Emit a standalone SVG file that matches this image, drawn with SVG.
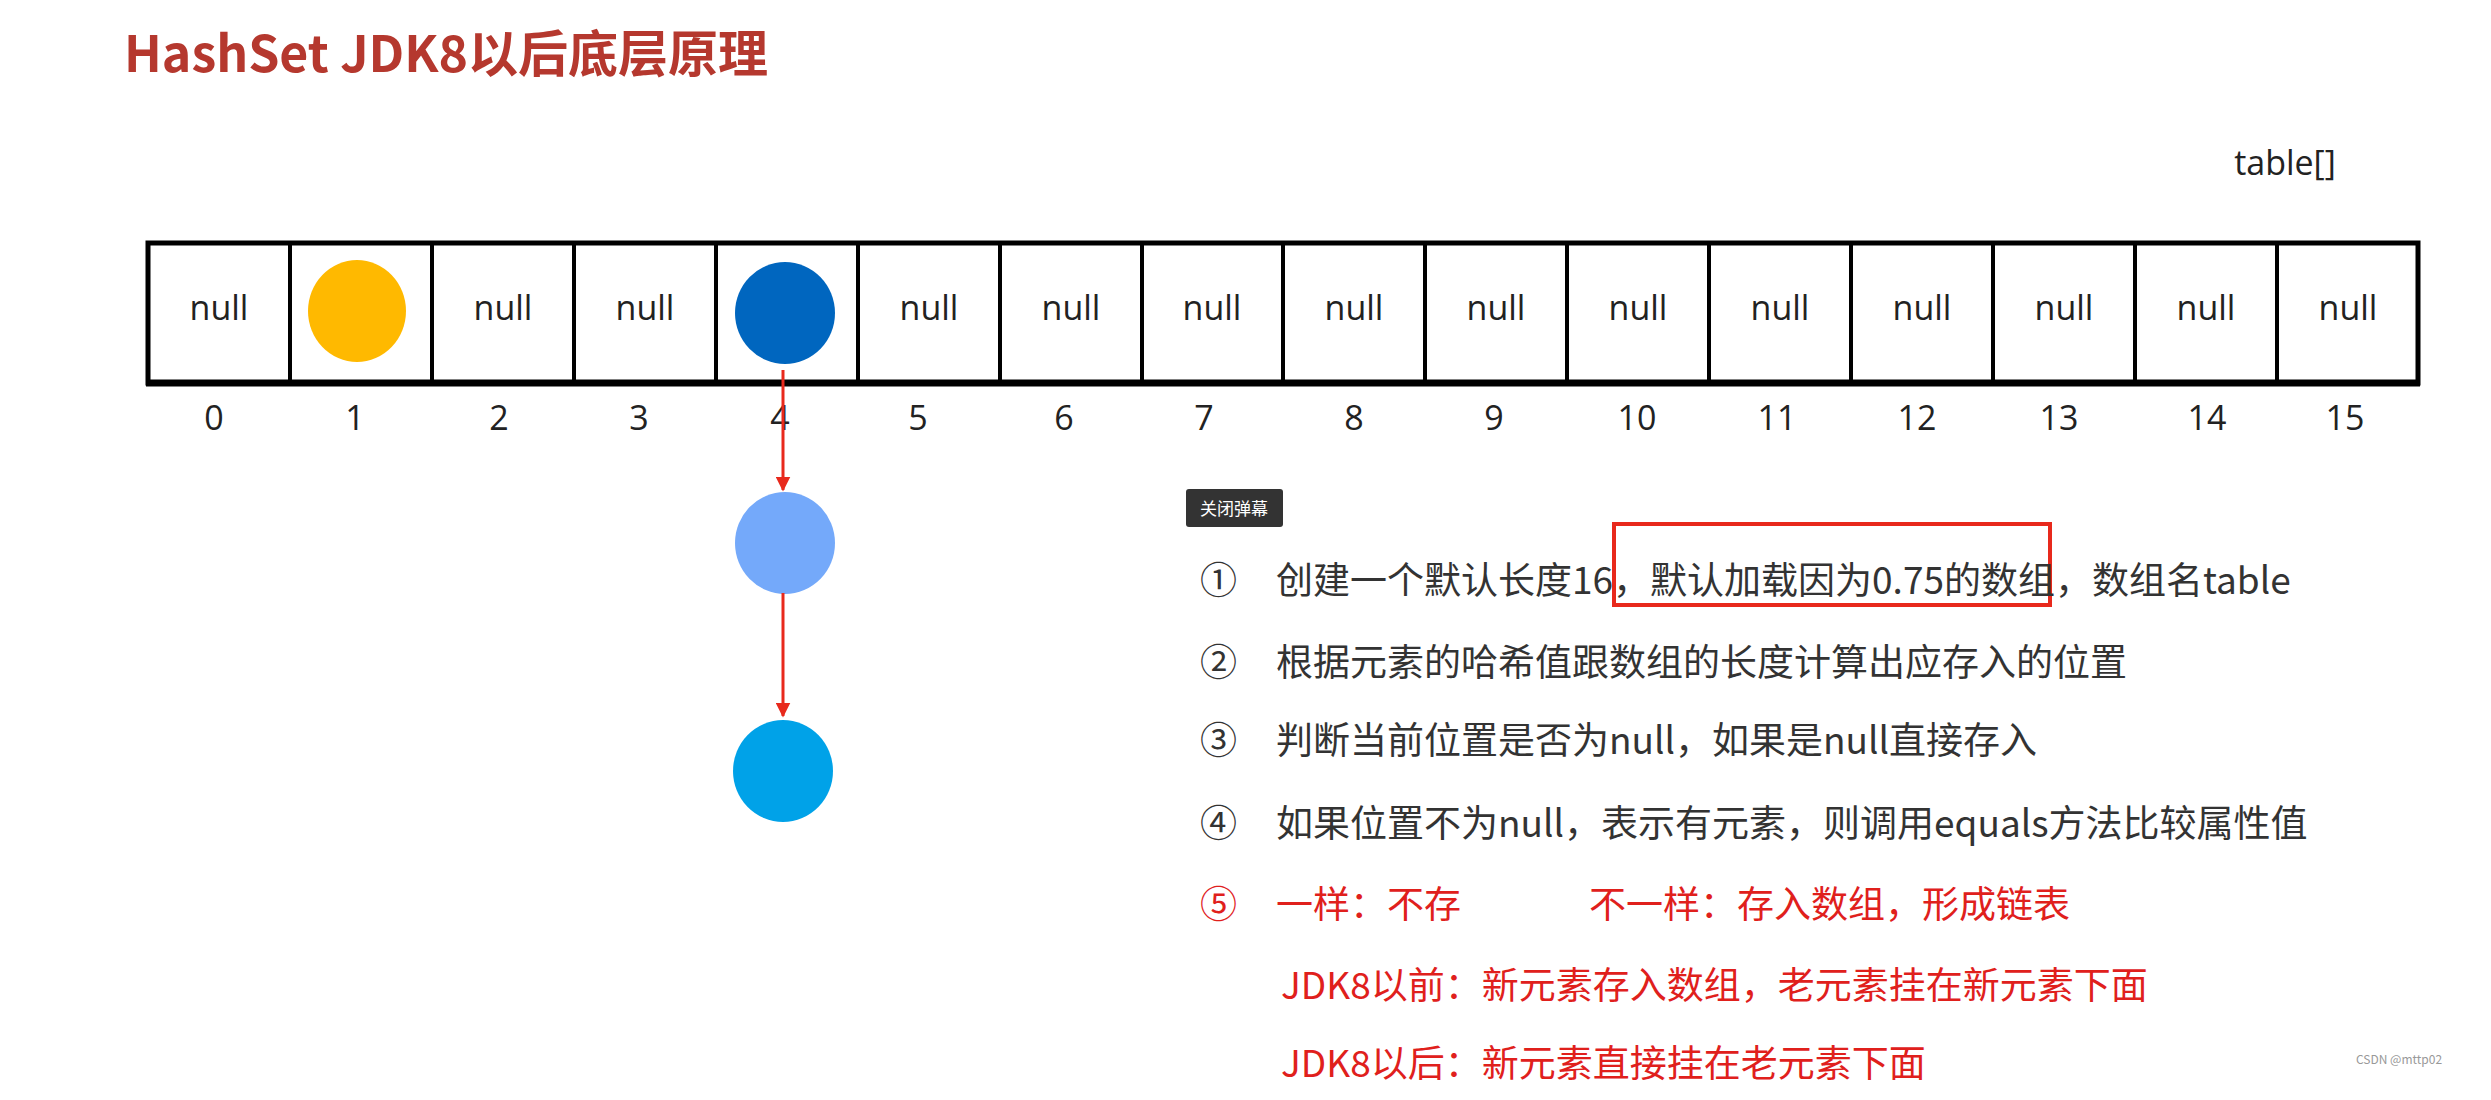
<svg xmlns="http://www.w3.org/2000/svg" width="2491" height="1100" viewBox="0 0 2491 1100">
<style>
.t{font-family:"Noto Sans CJK SC","Open Sans",sans-serif;}
.n{font-family:"Open Sans","Noto Sans",sans-serif;font-size:34px;fill:#222;text-anchor:middle;}
.s{font-family:"Noto Sans CJK SC",sans-serif;font-size:37px;fill:#333;}
.r{fill:#E0201C;}
.arr{stroke:#E8291C;stroke-width:3;fill:none;marker-end:url(#ah);}
</style>
<defs>
<marker id="ah" viewBox="0 0 10 10" refX="9" refY="5" markerWidth="5" markerHeight="5" orient="auto"><path d="M0,0 L10,5 L0,10 z" fill="#E8291C"/></marker>
</defs>
<rect width="2491" height="1100" fill="#fff"/>
<text class="t" x="124" y="72" font-size="50" font-weight="bold" fill="#B5382E">HashSet JDK8以后底层原理</text>
<text class="n" x="2285" y="175">table[]</text>
<g id="table">
<rect x="148" y="243" width="2270" height="140" fill="#fff" stroke="#000" stroke-width="5"/>
<path d="M290,243V383M432,243V383M574,243V383M716,243V383M858,243V383M1000,243V383M1142,243V383M1283,243V383M1425,243V383M1567,243V383M1709,243V383M1851,243V383M1993,243V383M2135,243V383M2277,243V383" stroke="#000" stroke-width="4"/>
<line x1="146" y1="383" x2="2420" y2="383" stroke="#000" stroke-width="7"/>
<g class="n">
<text x="219" y="320">null</text><text x="503" y="320">null</text><text x="645" y="320">null</text>
<text x="929" y="320">null</text><text x="1071" y="320">null</text><text x="1212" y="320">null</text><text x="1354" y="320">null</text><text x="1496" y="320">null</text><text x="1638" y="320">null</text><text x="1780" y="320">null</text><text x="1922" y="320">null</text><text x="2064" y="320">null</text><text x="2206" y="320">null</text><text x="2348" y="320">null</text>
</g>
<g class="n">
<text x="214" y="430">0</text><text x="355" y="430">1</text><text x="499" y="430">2</text><text x="639" y="430">3</text><text x="780" y="430">4</text><text x="918" y="430">5</text><text x="1064" y="430">6</text><text x="1204" y="430">7</text><text x="1354" y="430">8</text><text x="1494" y="430">9</text><text x="1637" y="430">10</text><text x="1777" y="430">11</text><text x="1917" y="430">12</text><text x="2059" y="430">13</text><text x="2207" y="430">14</text><text x="2345" y="430">15</text>
</g>
</g>
<g id="node1"><ellipse cx="357" cy="311" rx="49" ry="51" fill="#FFB900"/></g>
<g id="node4"><ellipse cx="785" cy="313" rx="50" ry="51" fill="#0066BF"/></g>
<g id="node4b"><ellipse cx="785" cy="543" rx="50" ry="51" fill="#74A9FA"/></g>
<g id="node4c"><ellipse cx="783" cy="771" rx="50" ry="51" fill="#00A2E8"/></g>
<g id="connectors">
<line class="arr" x1="783" y1="370" x2="783" y2="490"/>
<line class="arr" x1="783" y1="593" x2="783" y2="716"/>
</g>
<g id="btn"><rect x="1186" y="489" width="97" height="38" rx="3" fill="#333"/><text class="t" x="1234" y="515" font-size="17" fill="#fff" text-anchor="middle">关闭弹幕</text></g>
<rect x="1614" y="524" width="436" height="81" fill="none" stroke="#E8291C" stroke-width="4"/>
<g id="steps">
<text class="s" x="1200" y="594">①</text><text class="s" x="1276" y="594">创建一个默认长度16，默认加载因为0.75的数组，数组名table</text>
<text class="s" x="1200" y="676">②</text><text class="s" x="1276" y="676">根据元素的哈希值跟数组的长度计算出应存入的位置</text>
<text class="s" x="1200" y="754">③</text><text class="s" x="1276" y="754">判断当前位置是否为null，如果是null直接存入</text>
<text class="s" x="1200" y="837">④</text><text class="s" x="1276" y="837">如果位置不为null，表示有元素，则调用equals方法比较属性值</text>
<text class="s r" x="1200" y="918">⑤</text><text class="s r" x="1276" y="918">一样：不存</text><text class="s r" x="1589" y="918">不一样：存入数组，形成链表</text>
<text class="s r" x="1281" y="999">JDK8以前：新元素存入数组，老元素挂在新元素下面</text>
<text class="s r" x="1281" y="1077">JDK8以后：新元素直接挂在老元素下面</text>
</g>
<text class="t" x="2356" y="1064" font-size="12" fill="#999">CSDN @mttp02</text>
</svg>
